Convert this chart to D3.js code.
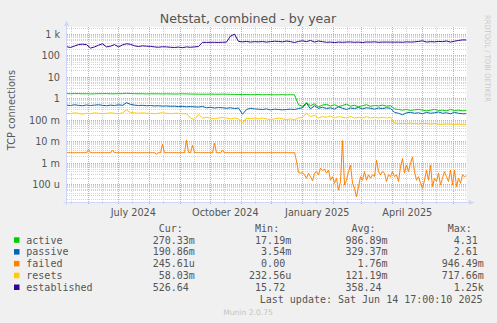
<!DOCTYPE html>
<html>
<head>
<meta charset="utf-8">
<script src="https://cdn.jsdelivr.net/npm/d3@7/dist/d3.min.js"></script>
<style>
  body { margin: 0; background: #f0f0f0; }
  svg { display: block; }
  text { font-family: "DejaVu Sans", sans-serif; fill: #555; }
  .mono { font-family: "DejaVu Sans Mono", monospace; font-size: 10px; white-space: pre; }
</style>
</head>
<body>
<svg id="chart" width="497" height="323"></svg>
<script>
// ---- data -----------------------------------------------------------
const title = "Netstat, combined - by year";
const yAxisTitle = "TCP connections";
const lastUpdate = "Last update: Sat Jun 14 17:00:10 2025";
const endTime = Date.UTC(2025, 5, 14, 17, 0, 10);
const spanDays = 400;

const seriesNames = ["active", "passive", "failed", "resets", "established"];
const seriesColors = ["#00cc00", "#0066b3", "#ff8000", "#ffcc00", "#330099"];
const seriesStepDays = [4, 4, 2, 4, 4];

const active = [
  1.65,1.63,1.66,1.65,1.62,1.64,1.6,1.62,1.65,1.64,1.66,1.63,1.62,1.64,1.65,1.72,1.66,1.64,1.63,1.62,1.6,1.62,1.63,1.61,1.6,1.62,1.6,1.58,1.6,1.62,1.6,1.58,1.57,
  1.56,1.55,1.55,1.57,1.55,1.54,1.56,1.55,1.53,1.52,1.5,1.48,1.5,1.47,1.48,1.5,1.46,1.48,1.47,1.45,1.46,1.48,1.45,1.46,1.45,
  0.5,0.42,0.62,0.45,0.55,0.4,0.48,0.52,0.44,0.5,0.41,0.46,0.53,0.43,0.47,0.4,0.45,0.5,0.42,0.46,0.44,0.48,0.43,0.45,
  0.32,0.3,0.28,0.3,0.27,0.29,0.3,0.28,0.26,0.28,0.3,0.27,0.28,0.26,0.3,0.27,0.28,0.26,0.27
];
const passive = [
  0.48,0.46,0.5,0.47,0.45,0.49,0.46,0.48,0.5,0.47,0.45,0.48,0.46,0.5,0.47,0.62,0.52,0.48,0.46,0.47,0.45,0.46,0.44,0.45,0.43,0.44,0.42,0.43,0.41,0.42,0.4,0.41,0.4,
  0.39,0.42,0.36,0.38,0.35,0.37,0.36,0.34,0.36,0.33,0.35,0.18,0.3,0.34,0.32,0.31,0.3,0.32,0.29,0.31,0.3,0.29,0.3,0.31,0.3,
  0.33,0.36,0.6,0.32,0.45,0.34,0.38,0.33,0.36,0.31,0.4,0.34,0.3,0.35,0.33,0.37,0.32,0.36,0.34,0.31,0.35,0.33,0.36,0.34,
  0.22,0.2,0.17,0.21,0.22,0.2,0.21,0.19,0.22,0.2,0.21,0.23,0.2,0.21,0.19,0.22,0.2,0.19,0.19
];
const failed = [
  0.0029,0.0029,0.00292,0.0029,0.00288,0.0029,0.0029,0.0029,0.00291,0.0029,0.0029,0.0042,0.0029,0.0029,0.0029,0.00289,0.0029,0.0029,0.0029,0.0029,0.0029,0.0029,0.0029,0.0038,
  0.0029,0.0029,0.0029,0.0029,0.00292,0.0029,0.0029,0.0029,0.0029,0.0029,0.0029,0.0029,0.0029,0.00288,0.0029,0.0029,0.0029,0.0029,0.0029,0.0029,0.0029,0.0024,0.0029,0.0029,0.007,
  0.0029,0.0029,0.0029,0.0029,0.0029,0.0029,0.0029,0.0029,0.0029,0.0029,0.0029,0.011,0.003,0.0029,0.0065,0.0029,0.0029,0.0029,0.0029,0.0029,0.0029,0.0029,0.0029,0.0029,0.0029,
  0.008,0.0029,0.0029,0.0029,0.0038,0.0029,0.0029,0.0029,0.0029,0.0029,0.0029,0.0029,0.0029,0.0029,0.0029,0.0029,0.0029,0.0029,0.0029,0.0029,0.0029,0.0029,0.0029,0.0029,0.0029,
  0.0029,0.0029,0.0029,0.0029,0.0029,0.0029,0.0029,0.0029,0.0029,0.0029,0.0029,0.0029,0.0029,0.0029,0.0029,0.0029,0.0012,0.00035,
  0.00032,0.00034,0.00027,0.000185,0.00032,0.00022,0.00014,0.00032,0.00038,0.00027,0.00055,0.00043,0.0005,0.00032,0.00045,0.00015,0.00022,0.000107,0.000185,0.000052,0.00013,
  0.0105,0.00009,0.00015,0.00038,0.00077,0.00011,0.000063,0.000025,0.000075,0.00022,0.00015,0.00038,0.00015,0.00027,0.000185,0.00027,0.00022,0.0013,0.00038,0.00027,0.00038,
  0.00032,0.00013,0.00027,0.00022,0.00038,0.00022,0.00027,0.00013,0.00065,0.00155,0.00032,0.00077,0.00038,0.00092,0.00185,0.00038,0.00015,0.00022,0.000107,0.000063,0.00015,
  0.00045,0.00015,0.00077,0.000075,0.000185,0.00013,0.00032,0.00009,0.000185,0.00038,0.00022,0.00013,0.00045,0.00009,0.00045,0.000075,0.000185,0.000107,0.00027,0.00022,0.00024561
];
const resets = [
  0.2,0.19,0.21,0.2,0.18,0.2,0.19,0.21,0.2,0.19,0.2,0.21,0.2,0.19,0.21,0.28,0.22,0.21,0.2,0.21,0.2,0.2,0.19,0.2,0.21,0.2,0.19,0.2,0.2,0.19,
  0.19,0.12,0.1,
  0.18,0.12,0.13,0.12,0.11,0.12,0.13,0.12,0.11,0.12,0.11,0.07,0.12,0.11,0.12,0.11,0.12,0.11,0.1,0.11,0.12,0.11,0.1,0.11,0.1,
  0.12,0.13,0.2,0.14,0.16,0.12,0.14,0.13,0.15,0.12,0.14,0.13,0.12,0.14,0.12,0.13,0.12,0.14,0.12,0.13,0.12,0.13,0.12,0.13,
  0.07,0.066,0.068,0.065,0.07,0.066,0.064,0.068,0.065,0.063,0.066,0.062,0.06,0.064,0.062,0.06,0.062,0.059,0.058
];
const established = [
  256,235,275,320,335,320,220,250,300,350,250,270,320,250,310,350,330,280,260,280,270,265,250,240,255,250,240,235,245,230,250,240,250,260,
  408,405,410,408,405,410,420,800,980,450,430,450,420,440,430,445,420,440,460,450,430,470,440,400,450,480,440,500,420,470,440,410,420,400,
  420,410,420,425,410,420,400,425,420,430,410,420,420,420,415,420,410,430,420,430,450,480,420,440,430,450,440,470,420,460,500,530,526.64
];
const seriesValues = [active, passive, failed, resets, established];

const legendHeaders = ["Cur:", "Min:", "Avg:", "Max:"];
const legendCur = ["270.33m", "190.86m", "245.61u", " 58.03m", "526.64 "];
const legendMin = [" 17.19m", "  3.54m", "  0.00 ", "232.56u", " 15.72 "];
const legendAvg = ["986.89m", "329.37m", "  1.76m", "121.19m", "358.24 "];
const legendMax = ["  4.31 ", "  2.61 ", "946.49m", "717.66m", "  1.25k"];

const yTickValues = [1e3, 100, 10, 1, 0.1, 0.01, 0.001, 1e-4];
const yTickLabels = ["1 k", "100", "10", "1", "100 m", "10 m", "1 m", "100 u"];
const xLabelMonths = [[2024, 6], [2024, 9], [2025, 0], [2025, 3]];
const xLabels = ["July 2024", "October 2024", "January 2025", "April 2025"];

// ---- layout ---------------------------------------------------------
const plot = { left: 66.5, right: 466.5, top: 27, bottom: 203 };
const startTime = endTime - spanDays * 864e5;

const svg = d3.select("#chart");
svg.append("rect").attr("width", 497).attr("height", 323).attr("fill", "#f0f0f0");
svg.append("rect")
  .attr("x", plot.left).attr("y", plot.top)
  .attr("width", plot.right - plot.left).attr("height", plot.bottom - plot.top)
  .attr("fill", "#ffffff");

const x = d3.scaleUtc().domain([startTime, endTime]).range([plot.left, plot.right]);
const y = d3.scaleLog().domain([1.3e-5, 2.12e3]).range([plot.bottom, plot.top]);

// ---- grid -----------------------------------------------------------
const grid = svg.append("g").attr("shape-rendering", "crispEdges");
const minorY = [];
for (let e = -5; e <= 3; e++) {
  for (let k = 2; k <= 9; k++) {
    const v = k * Math.pow(10, e);
    if (v > y.domain()[0] && v < y.domain()[1]) minorY.push(v);
  }
}
grid.selectAll("line.hmin").data(minorY).join("line")
  .attr("x1", plot.left).attr("x2", plot.right)
  .attr("y1", d => Math.round(y(d)) + 0.5).attr("y2", d => Math.round(y(d)) + 0.5)
  .attr("stroke", "#d4d4d4").attr("stroke-dasharray", "1,1");

const monthStarts = d3.utcMonth.range(new Date(startTime), new Date(endTime));
const midMonths = monthStarts.map(d => d3.utcDay.offset(d, 14))
  .concat([d3.utcDay.offset(d3.utcMonth.floor(new Date(startTime)), 14)])
  .filter(d => d >= startTime && d <= endTime);

grid.selectAll("line.vmin").data(midMonths).join("line")
  .attr("x1", d => Math.round(x(d)) + 0.5).attr("x2", d => Math.round(x(d)) + 0.5)
  .attr("y1", plot.top).attr("y2", plot.bottom + 2)
  .attr("stroke", "#d4d4d4").attr("stroke-dasharray", "1,1");

grid.selectAll("line.hmaj").data(yTickValues).join("line")
  .attr("x1", plot.left).attr("x2", plot.right)
  .attr("y1", d => Math.round(y(d)) + 0.5).attr("y2", d => Math.round(y(d)) + 0.5)
  .attr("stroke", "#e8a0a0").attr("stroke-dasharray", "1,1");

grid.selectAll("line.vmaj").data(monthStarts).join("line")
  .attr("x1", d => Math.round(x(d)) + 0.5).attr("x2", d => Math.round(x(d)) + 0.5)
  .attr("y1", plot.top).attr("y2", plot.bottom + 2)
  .attr("stroke", "#e8a0a0").attr("stroke-dasharray", "1,1");

// ---- series ---------------------------------------------------------
svg.append("clipPath").attr("id", "plotclip").append("rect")
  .attr("x", plot.left).attr("y", plot.top)
  .attr("width", plot.right - plot.left).attr("height", plot.bottom - plot.top);

const lines = svg.append("g").attr("clip-path", "url(#plotclip)");
seriesValues.forEach((vals, s) => {
  const pts = vals.map((v, i) => [startTime + i * seriesStepDays[s] * 864e5, v]);
  const line = d3.line().x(d => x(d[0])).y(d => y(d[1]));
  lines.append("path")
    .attr("d", line(pts))
    .attr("fill", "none")
    .attr("stroke", seriesColors[s])
    .attr("stroke-width", 1)
    .attr("stroke-linejoin", "round");
});

// ---- axes -----------------------------------------------------------
const axisColor = "#cfd6f8";
svg.append("line").attr("x1", plot.left).attr("x2", plot.left)
  .attr("y1", plot.bottom + 2).attr("y2", 23).attr("stroke", axisColor);
svg.append("line").attr("x1", plot.left - 3).attr("x2", 470)
  .attr("y1", plot.bottom - 0.5).attr("y2", plot.bottom - 0.5).attr("stroke", axisColor);
svg.append("path").attr("d", `M${plot.left - 2.5},26 L${plot.left},20.5 L${plot.left + 2.5},26 Z`).attr("fill", axisColor);
svg.append("path").attr("d", `M469,${plot.bottom - 3} L474.5,${plot.bottom - 0.5} L469,${plot.bottom + 2} Z`).attr("fill", axisColor);

const yAxis = d3.axisLeft(y).tickValues(yTickValues)
  .tickFormat((d, i) => yTickLabels[i]).tickSize(0).tickPadding(0);
const yg = svg.append("g").attr("transform", `translate(${plot.left - 6.5},0)`).call(yAxis);
yg.select(".domain").remove();
yg.selectAll("text").attr("font-size", 9.7).attr("fill", "#555")
  .attr("font-family", "DejaVu Sans").attr("dy", "0.36em");

const xTickDates = xLabelMonths.map(([yr, m]) => Date.UTC(yr, m, 16));
const xAxis = d3.axisBottom(x).tickValues(xTickDates)
  .tickFormat((d, i) => xLabels[i]).tickSize(0).tickPadding(0);
const xg = svg.append("g").attr("transform", `translate(0,${plot.bottom + 12.5})`).call(xAxis);
xg.select(".domain").remove();
xg.selectAll("text").attr("font-size", 9.7).attr("fill", "#555")
  .attr("font-family", "DejaVu Sans").attr("dy", 0);

// ---- titles ---------------------------------------------------------
svg.append("text").attr("x", 248).attr("y", 23).attr("text-anchor", "middle")
  .attr("font-size", 12.6).text(title);
svg.append("text").attr("transform", "translate(14.5,110) rotate(-90)")
  .attr("text-anchor", "middle").attr("font-size", 9.8).text(yAxisTitle);
svg.append("text").attr("transform", "translate(485,15) rotate(90)")
  .attr("font-size", 7.5).attr("textLength", 87).attr("lengthAdjust", "spacingAndGlyphs")
  .style("fill", "#c8c8c8").text("RRDTOOL / TOBI OETIKER");

// ---- legend ---------------------------------------------------------
const legendX = 26.3;
const rowY = i => 231.8 + i * 11.8;
const pad = (s, n) => " ".repeat(Math.max(0, n - s.length)) + s;

svg.append("text").attr("class", "mono").attr("x", legendX).attr("y", rowY(0))
  .text(" ".repeat(22) + legendHeaders[0] + " ".repeat(12) + legendHeaders[1] +
        " ".repeat(12) + legendHeaders[2] + " ".repeat(12) + legendHeaders[3]);

seriesNames.forEach((name, i) => {
  const yy = rowY(i + 1);
  svg.append("rect").attr("x", 14).attr("y", yy - 6.3).attr("width", 5.5).attr("height", 5.5)
    .attr("fill", seriesColors[i]);
  const row = name.padEnd(21) + pad(legendCur[i], 7) + pad(legendMin[i], 16) +
              pad(legendAvg[i], 16) + pad(legendMax[i], 16);
  svg.append("text").attr("class", "mono").attr("x", legendX).attr("y", yy).text(row);
});

svg.append("text").attr("class", "mono").attr("x", 482.5).attr("y", rowY(6))
  .attr("text-anchor", "end").text(lastUpdate);

svg.append("text").attr("x", 248).attr("y", 315).attr("text-anchor", "middle")
  .attr("font-size", 7.6).style("fill", "#c4c4c4").text("Munin 2.0.75");
</script>
</body>
</html>
